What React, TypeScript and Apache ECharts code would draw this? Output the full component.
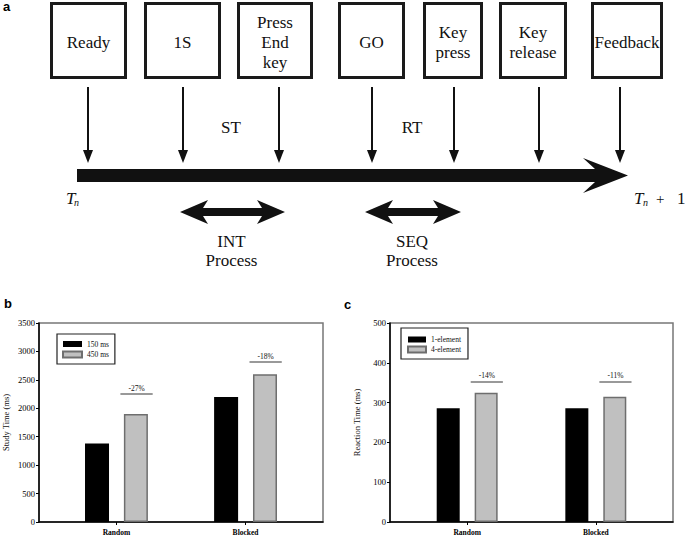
import React, { useEffect, useRef } from 'react';
import * as echarts from 'echarts';

// ---- Panel a (timeline diagram) labels ----
const eventLabels = ['Ready', '1S', 'Press\nEnd\nkey', 'GO', 'Key\npress', 'Key\nrelease', 'Feedback'];
const intervalLabels = ['ST', 'RT'];
const processLabels = ['INT\nProcess', 'SEQ\nProcess'];

// ---- Panels b and c data ----
const categories = ['Random', 'Blocked'];
const studySeriesNames = ['150 ms', '450 ms'];
const studyTime150 = [1380, 2200];
const studyTime450 = [1900, 2600];
const studyChange = ['-27%', '-18%'];
const studyBracketLevel = [2250, 2810];

const reactionSeriesNames = ['1-element', '4-element'];
const reaction1 = [286, 286];
const reaction4 = [325, 315];
const reactionChange = ['-14%', '-11%'];
const reactionBracketLevel = [352, 352];

const studyAxis = { min: 0, max: 3500, interval: 500 };
const reactionAxis = { min: 0, max: 500, interval: 100 };

// ---- layout (geometry only) ----
const boxX: [number, number][] = [
  [50, 127], [144, 221], [237, 313], [338, 405], [423, 483], [499, 567], [591, 663],
];
const downArrowX = [88, 183, 279, 372, 454, 539, 620];
const intervalX = [231, 412];
const doubleArrowX: [number, number][] = [[180, 285], [365, 461]];

const SERIF = 'Liberation Serif';
const SANS = 'Liberation Sans';

function txt(x: number, y: number, text: string, opts: any = {}) {
  return {
    type: 'text',
    x,
    y,
    style: {
      text,
      fill: '#111',
      fontFamily: SERIF,
      fontSize: 17,
      verticalAlign: 'middle',
      ...opts,
    },
  };
}

function buildDiagram(): any[] {
  const els: any[] = [];
  els.push(txt(3, 6.5, 'a', { fontFamily: SANS, fontWeight: 'bold', fontSize: 13, fill: '#000' }));
  els.push(txt(4, 303.5, 'b', { fontFamily: SANS, fontWeight: 'bold', fontSize: 13, fill: '#000' }));
  els.push(txt(344, 304.5, 'c', { fontFamily: SANS, fontWeight: 'bold', fontSize: 13, fill: '#000' }));

  boxX.forEach(([x0, x1], i) => {
    els.push({
      type: 'rect',
      shape: { x: x0 + 1.5, y: 3.5, width: x1 - x0 - 3, height: 74 },
      style: { fill: '#fff', stroke: '#1a1a1a', lineWidth: 3 },
    });
    els.push(txt((x0 + x1) / 2, 42, eventLabels[i], { align: 'center', lineHeight: 20 }));
  });

  downArrowX.forEach((x) => {
    els.push({ type: 'line', shape: { x1: x, y1: 87, x2: x, y2: 152 }, style: { stroke: '#111', lineWidth: 2 } });
    els.push({ type: 'polygon', shape: { points: [[x - 5, 150], [x + 5, 150], [x, 163]] }, style: { fill: '#111' } });
  });

  intervalLabels.forEach((t, i) => {
    els.push(txt(intervalX[i], 127, t, { align: 'center' }));
  });

  // main timeline arrow
  els.push({
    type: 'polygon',
    shape: { points: [[77, 169], [595, 169], [583, 158], [628, 175.5], [583, 193], [595, 182], [77, 182]] },
    style: { fill: '#111' },
  });

  // T_n and T_n + 1
  els.push(txt(66, 198, 'T', { fontStyle: 'italic' }));
  els.push(txt(74, 202, 'n', { fontStyle: 'italic', fontSize: 10 }));
  els.push(txt(634, 198, 'T', { fontStyle: 'italic' }));
  els.push(txt(643, 202, 'n', { fontStyle: 'italic', fontSize: 10 }));
  els.push(txt(656, 199, '+', { fontSize: 15 }));
  els.push(txt(677, 198, '1'));

  // double arrows
  doubleArrowX.forEach(([a, b], i) => {
    const cy = 212;
    els.push({
      type: 'polygon',
      shape: {
        points: [
          [a, cy], [a + 28, cy - 12], [a + 23, cy - 4], [b - 23, cy - 4], [b - 28, cy - 12],
          [b, cy], [b - 28, cy + 12], [b - 23, cy + 4], [a + 23, cy + 4], [a + 28, cy + 12],
        ],
      },
      style: { fill: '#111' },
    });
    els.push(txt((a + b) / 2 - 1, 251, processLabels[i], { align: 'center', lineHeight: 19 }));
  });
  return els;
}

function bracket(i: number, level: number, label: string) {
  return [
    { coord: [i - 0.12, level], name: label },
    { coord: [i + 0.13, level] },
  ];
}

export default function App() {
  const ref = useRef<HTMLDivElement>(null);
  useEffect(() => {
    if (!ref.current) return;
    const chart = echarts.init(ref.current, null, { renderer: 'svg' });

    const xAxisCommon = (gridIndex: number) => ({
      gridIndex,
      type: 'value',
      min: -0.6,
      max: 1.6,
      axisLine: { show: true, onZero: false, lineStyle: { color: '#000', width: 1.5 } },
      axisTick: { show: true, customValues: [0, 1], length: 3, lineStyle: { color: '#000', width: 1 } },
      axisLabel: {
        customValues: [0, 1],
        formatter: (v: number) => categories[Math.round(v)] ?? '',
        margin: 6, fontSize: 7.5, fontWeight: 'bold', fontFamily: SERIF, color: '#000',
      },
      splitLine: { show: false },
    });
    const yAxisCommon = (gridIndex: number, ax: any, name: string) => ({
      gridIndex,
      type: 'value',
      min: ax.min,
      max: ax.max,
      interval: ax.interval,
      name,
      nameLocation: 'middle',
      nameGap: 29,
      nameTextStyle: { fontFamily: SERIF, fontSize: 8.5, color: '#111' },
      axisLine: { show: true, onZero: false, lineStyle: { color: '#000', width: 1.5 } },
      axisTick: { show: true, length: 3, lineStyle: { color: '#000', width: 1 } },
      axisLabel: {
        fontSize: 8.5, margin: 4, fontFamily: SERIF, color: '#000',
        formatter: (v: number) => String(v),
      },
      splitLine: { show: false },
    });
    const markLineOf = (items: any[]) => ({
      silent: true,
      symbol: ['none', 'none'],
      lineStyle: { color: '#777', width: 1.5, type: 'solid' },
      label: {
        show: true, position: 'insideMiddleTop', distance: 2, formatter: '{b}',
        fontFamily: SERIF, fontSize: 7.5, color: '#111',
      },
      emphasis: { disabled: true },
      data: items,
    });
    const grayStyle = { color: '#c0c0c0', borderColor: '#6e6e6e', borderWidth: 1.5 };
    const blackStyle = { color: '#000' };

    const legendCommon = {
      orient: 'vertical',
      icon: 'rect',
      itemHeight: 6,
      borderColor: '#222',
      borderWidth: 1.2,
      backgroundColor: '#fff',
      textStyle: { fontFamily: SERIF, fontSize: 7.5, color: '#111', lineHeight: 9 },
      selectedMode: false,
    };

    chart.setOption({
      animation: false,
      backgroundColor: '#fff',
      graphic: { elements: buildDiagram() },
      grid: [
        { left: 38, top: 323, width: 285, height: 199, show: true, borderColor: '#777', borderWidth: 1.5, backgroundColor: 'transparent' },
        { left: 390, top: 323, width: 283, height: 199, show: true, borderColor: '#777', borderWidth: 1.5, backgroundColor: 'transparent' },
      ],
      xAxis: [xAxisCommon(0), xAxisCommon(1)],
      yAxis: [
        yAxisCommon(0, studyAxis, 'Study Time (ms)'),
        yAxisCommon(1, reactionAxis, 'Reaction Time (ms)'),
      ],
      legend: [
        { ...legendCommon, data: studySeriesNames, left: 57, top: 334, itemWidth: 19, itemGap: 1.5, padding: [5.5, 6, 5, 5] },
        { ...legendCommon, data: reactionSeriesNames, left: 401, top: 328, itemWidth: 18, itemGap: 1, padding: [7, 7, 5, 6] },
      ],
      series: [
        {
          name: studySeriesNames[0], type: 'bar', xAxisIndex: 0, yAxisIndex: 0,
          data: categories.map((_, i) => [i, studyTime150[i]]),
          barWidth: 24, barGap: '62%', itemStyle: blackStyle,
        },
        {
          name: studySeriesNames[1], type: 'bar', xAxisIndex: 0, yAxisIndex: 0,
          data: categories.map((_, i) => [i, studyTime450[i]]),
          barWidth: 24, barGap: '62%', itemStyle: grayStyle,
          markLine: markLineOf(categories.map((_, i) => bracket(i, studyBracketLevel[i], studyChange[i]))),
        },
        {
          name: reactionSeriesNames[0], type: 'bar', xAxisIndex: 1, yAxisIndex: 1,
          data: categories.map((_, i) => [i, reaction1[i]]),
          barWidth: 23, barGap: '65%', itemStyle: blackStyle,
        },
        {
          name: reactionSeriesNames[1], type: 'bar', xAxisIndex: 1, yAxisIndex: 1,
          data: categories.map((_, i) => [i, reaction4[i]]),
          barWidth: 23, barGap: '65%', itemStyle: grayStyle,
          markLine: markLineOf(categories.map((_, i) => bracket(i, reactionBracketLevel[i], reactionChange[i]))),
        },
      ],
    });
    return () => chart.dispose();
  }, []);
  return <div ref={ref} style={{ position: 'absolute', left: 0, top: 0, width: 685, height: 537 }} />;
}
